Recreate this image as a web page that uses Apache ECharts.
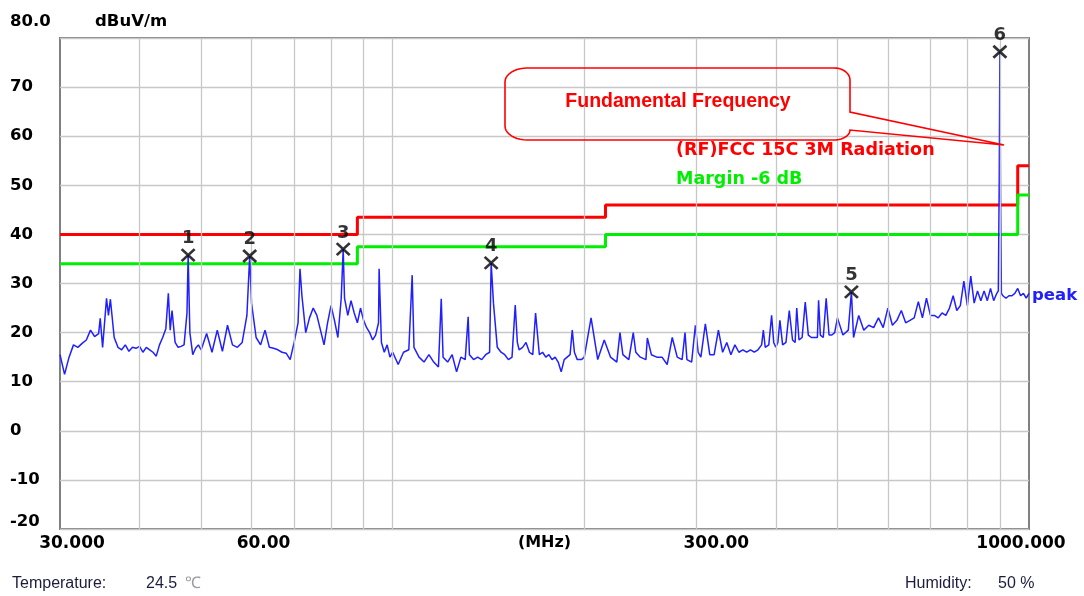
<!DOCTYPE html>
<html><head><meta charset="utf-8">
<script src="https://cdn.jsdelivr.net/npm/echarts@6/dist/echarts.min.js"></script>
<style>html,body{margin:0;padding:0;background:#fff}#c{width:1084px;height:596px}</style>
</head><body><div id="c"></div>
<script>
// ---- data ----
const traceFreq = [
  30,30.5,31,31.5,32,32.5,33,33.5,34,34.5,34.7,35,35.5,35.75,36,36.5,37,37.5,38,38.5,39,39.5,40,40.5,41,41.5,42,42.5,43,43.5,44,44.4,44.7,45,45.5,46,46.5,47,47.5,47.7,47.9,48,48.5,49,49.5,50,
  51,52,53,54,55,56,57,58,59,59.6,60,61,62,63,64,65,66,67,68,69,70,71,71.5,72,73,74,75,76,77,78,79,80,81,82,83,83.6,84,85,86,87,88,89,90,91,92,93,94,95,95.2,96,97,98,99,100,
  102,104,106,107.3,108,110,112,114,116,118,119.2,120,122,124,126,128,130,131.4,132,134,136,138,140,142,142.8,144,146,148,150,152,154,155.8,157,158,160,162,164,166,167.7,170,172,174,176,178,180,182,184,186,188,190,191.5,193,195,198,200,
  205,210,215,220,225,227.6,230,235,238.8,241,245,250,251.3,255,260,265,270,275,280,285,288,290,295,299,302,305,310,315,320,325,330,335,340,345,350,355,360,365,370,375,380,382.4,385,390,394,397,400,403,406,410,415,420,425,429,431.5,435,440,445,450,455,460,465,467,470,475,480,485,490,495,500,
  510,520,525.9,530,540,550,560,570,580,590,600,610,620,630,640,650,660,670,680,690,700,710,720,730,740,750,760,770,780,790,800,810,820,830,840,850,860,870,880,890,895,898,900,902,905,910,920,930,940,950,960,970,980,990,1000
];
const traceLevel = [
  15.5,11.5,15.0,17.5,17.0,17.8,18.5,20.5,19.2,19.8,22.9,17.0,27.0,23.5,26.8,19.0,17.0,16.5,17.5,16.2,17.0,16.8,17.2,16.0,17.0,16.5,16.0,15.2,17.5,19.0,20.8,28.0,20.5,24.5,18.0,17.0,17.2,17.5,24.0,35.8,25.0,20.0,15.5,16.8,17.5,16.5,
  19.8,16.0,20.5,16.2,21.5,17.5,17.0,18.0,23.5,35.6,26.0,19.0,17.5,20.5,17.0,16.8,16.5,16.0,15.8,14.5,18.0,22.0,33.0,27.5,20.0,23.0,25.0,23.5,20.5,17.5,22.0,25.5,22.5,19.0,27.0,37.0,27.0,23.5,26.5,24.0,22.0,25.0,22.5,21.0,20.0,18.5,19.5,22.0,33.0,18.0,16.0,17.5,15.0,16.0,
  13.5,16.0,16.5,31.7,17.0,15.0,14.0,15.5,14.0,13.0,26.9,15.0,14.0,15.5,12.0,15.0,14.5,23.2,15.5,14.5,15.0,14.5,15.5,16.0,34.2,26.0,17.0,16.0,15.5,14.5,15.0,25.6,18.0,16.5,17.0,18.0,16.0,15.5,24.0,15.5,16.0,15.0,15.5,14.5,15.0,14.0,12.0,14.5,15.0,15.5,20.5,16.0,14.5,14.5,15.0,
  23.0,14.5,18.5,15.0,14.0,20.0,15.5,14.5,20.0,16.0,15.0,14.5,18.9,15.5,15.0,15.0,13.5,19.0,15.0,14.5,20.0,14.5,14.0,21.5,16.0,15.0,21.8,15.5,15.5,20.5,16.0,18.0,15.5,17.5,16.0,16.5,16.0,16.5,16.0,16.5,17.5,20.5,17.0,17.5,23.5,18.0,17.0,18.0,22.5,17.5,18.0,24.5,18.5,18.0,25.0,18.5,19.0,26.2,19.5,19.0,19.0,19.0,26.6,19.5,19.0,27.0,19.5,19.5,20.0,23.0,
  19.5,20.5,28.3,19.0,23.5,20.5,21.5,21.0,23.0,21.0,25.0,21.5,22.5,24.5,22.0,22.5,23.0,26.3,23.0,27.0,23.5,23.5,23.0,24.0,23.5,25.0,27.5,24.5,25.5,30.5,25.5,31.5,26.0,28.5,26.5,28.5,26.5,29.0,26.5,28.0,28.5,52.0,77.2,50.0,28.0,27.5,27.0,27.5,27.5,28.0,29.0,27.5,28.0,27.0,28.0
];
const limitFreq  = [30, 88, 88, 216, 216, 960, 960, 1000];
const limitLevel = [40, 40, 43.5, 43.5, 46, 46, 54, 54];
const marginLevel = [34, 34, 37.5, 37.5, 40, 40, 48, 48];
const markerFreq  = [47.7, 59.6, 83.6, 142.8, 525.9, 900];
const markerLevel = [35.8, 35.6, 37.0, 34.2, 28.3, 77.2];
const markerLabels = ['1', '2', '3', '4', '5', '6'];
const gridFreqs = [40, 50, 60, 70, 80, 90, 100, 200, 300, 400, 500, 600, 700, 800, 900];
const xTickValues = [30, 60, 300, 1000];
const xTickLabels = ['30.000', '60.00', '300.00', '1000.000'];
const yTopLabel = '80.0';
const yUnit = 'dBuV/m';
const xUnit = '(MHz)';
const limitName = '(RF)FCC 15C 3M Radiation';
const marginName = 'Margin -6 dB';
const traceName = 'peak';
const calloutText = 'Fundamental Frequency';
const footer = ['Temperature:', '24.5', '℃', 'Humidity:', '50 %'];

// ---- chart ----
const BOLD = '"DejaVu Sans", sans-serif';
const zip = (a, b) => a.map((v, i) => [v, b[i]]);
const chart = echarts.init(document.getElementById('c'), null, {renderer: 'canvas'});
const lblFont = {fontFamily: BOLD, fontWeight: 'bold', fontSize: 16.5, color: '#000'};
const option = {
  animation: false,
  backgroundColor: '#fff',
  grid: {left: 60, right: 55, top: 38, bottom: 67, show: true, borderColor: '#808080', borderWidth: 2},
  xAxis: {
    type: 'log', logBase: 10, min: 30, max: 1000,
    axisLine: {show: false}, axisTick: {show: false}, axisLabel: {show: false}, splitLine: {show: false},
    name: xUnit, nameLocation: 'middle', nameGap: 6,
    nameTextStyle: {fontFamily: BOLD, fontWeight: 'bold', fontSize: 16, color: '#000', verticalAlign: 'top'}
  },
  yAxis: {
    type: 'value', min: -20, max: 80, interval: 10,
    axisLine: {show: false}, axisTick: {show: false},
    splitLine: {lineStyle: {color: '#c8c8c8', width: 1.3}},
    axisLabel: Object.assign({
      align: 'left', margin: 50,
      formatter: v => v === 80 ? '{top|' + yTopLabel + '}' : (v === -20 ? '{bot|' + v + '}' : String(v)),
      rich: {
        top: Object.assign({padding: [0, 0, 32, 0]}, lblFont),
        bot: Object.assign({padding: [0, 0, 14, 0]}, lblFont)
      }
    }, lblFont)
  },
  series: [
    {
      type: 'line', data: [], z: 1, silent: true,
      markLine: {
        silent: true, symbol: 'none', label: {show: false},
        lineStyle: {color: '#c8c8c8', width: 1.3, type: 'solid'},
        emphasis: {disabled: true},
        data: gridFreqs.map(f => ({xAxis: f}))
      }
    },
    {
      name: 'limit', type: 'line', data: zip(limitFreq, limitLevel), z: 2,
      showSymbol: false, symbol: 'none', lineStyle: {color: '#ff0000', width: 3}, silent: true
    },
    {
      name: 'margin', type: 'line', data: zip(limitFreq, marginLevel), z: 2,
      showSymbol: false, symbol: 'none', lineStyle: {color: '#00ee00', width: 3}, silent: true
    },
    {
      name: 'peak', type: 'line', data: zip(traceFreq, traceLevel), z: 3,
      showSymbol: false, symbol: 'none', lineStyle: {color: '#2020ff', width: 1.5}, silent: true
    },
    {
      name: 'markers', type: 'scatter', z: 5, silent: true,
      data: markerFreq.map((f, i) => ({value: [f, markerLevel[i]], label: {formatter: markerLabels[i]}})),
      symbol: 'path://M0,0L10,10M10,0L0,10', symbolSize: [13, 12],
      itemStyle: {color: 'rgba(0,0,0,0)', borderColor: '#000', borderWidth: 2.6},
      label: {show: true, position: 'top', distance: 0, fontFamily: BOLD, fontWeight: 'bold', fontSize: 18, color: '#000'}
    }
  ]
};
chart.setOption(option);

const xLabelDx = [12, 12, 20, -8];
const g = [];
xTickValues.forEach((v, i) => {
  const px = chart.convertToPixel({xAxisIndex: 0}, v);
  g.push({type: 'text', x: px + xLabelDx[i], y: 544, z: 10,
    style: {text: xTickLabels[i], font: 'bold 17px ' + BOLD, fill: '#000', align: 'center', verticalAlign: 'middle'}});
});
g.push({type: 'text', x: 95, y: 22, z: 10,
  style: {text: yUnit, font: 'bold 16.5px ' + BOLD, fill: '#000', align: 'left', verticalAlign: 'middle'}});
g.push({type: 'text', x: 676, y: 150, z: 10,
  style: {text: limitName, font: 'bold 17.5px ' + BOLD, fill: '#ff0000', align: 'left', verticalAlign: 'middle'}});
g.push({type: 'text', x: 676, y: 179, z: 10,
  style: {text: marginName, font: 'bold 17.5px ' + BOLD, fill: '#00ee00', align: 'left', verticalAlign: 'middle'}});
g.push({type: 'text', x: 1032, y: 296, z: 10,
  style: {text: traceName, font: 'bold 16.5px ' + BOLD, fill: '#2020ff', align: 'left', verticalAlign: 'middle'}});

// callout balloon outline (annotation geometry)
function arcPts(cx, cy, rx, ry, a0, a1) {
  const pts = [];
  for (let k = 0; k <= 10; k++) {
    const a = (a0 + (a1 - a0) * k / 10) * Math.PI / 180;
    pts.push([cx + rx * Math.cos(a), cy + ry * Math.sin(a)]);
  }
  return pts;
}
const balloon = [].concat(
  [[527, 68], [834, 68]],
  arcPts(834, 80, 16, 12, -90, 0),
  [[850, 112], [1004, 145], [850, 130]],
  arcPts(834, 130, 16, 10, 0, 90),
  [[527, 140]],
  arcPts(527, 126, 22, 14, 90, 180),
  [[505, 82]],
  arcPts(527, 82, 22, 14, 180, 270)
);
g.push({type: 'polygon', z: 9, silent: true, shape: {points: balloon},
  style: {fill: 'none', stroke: '#ff0000', lineWidth: 1.6}});
g.push({type: 'text', x: 678, y: 102, z: 10,
  style: {text: calloutText, font: 'bold 19.5px "Liberation Sans", Arial, sans-serif', fill: '#ff0000', align: 'center', verticalAlign: 'middle'}});
// footer
const ff = '16px "Liberation Sans", Arial, sans-serif';
g.push({type: 'text', x: 12, y: 584, style: {text: footer[0], font: ff, fill: '#1c1c3c', align: 'left', verticalAlign: 'middle'}});
g.push({type: 'text', x: 146, y: 584, style: {text: footer[1], font: ff, fill: '#1c1c3c', align: 'left', verticalAlign: 'middle'}});
g.push({type: 'text', x: 185, y: 584, style: {text: footer[2], font: ff, fill: '#9a9aa6', align: 'left', verticalAlign: 'middle'}});
g.push({type: 'text', x: 905, y: 584, style: {text: footer[3], font: ff, fill: '#1c1c3c', align: 'left', verticalAlign: 'middle'}});
g.push({type: 'text', x: 998, y: 584, style: {text: footer[4], font: ff, fill: '#1c1c3c', align: 'left', verticalAlign: 'middle'}});
chart.setOption({graphic: g});
</script>
</body></html>
